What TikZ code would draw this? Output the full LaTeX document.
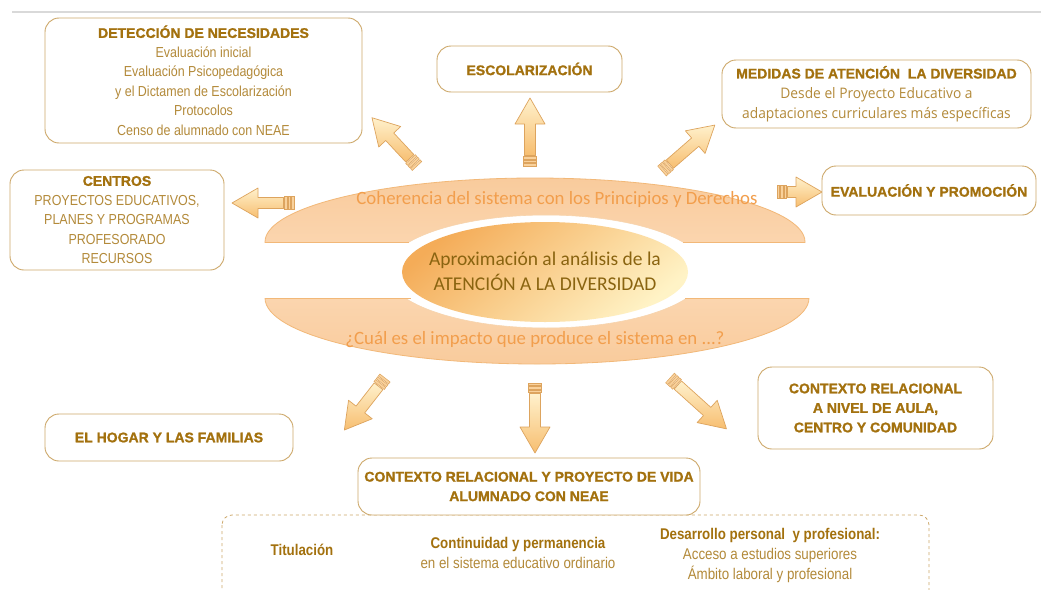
\documentclass[tikz,border=0pt]{standalone}
\usepackage{fontspec}
\setmainfont{Liberation Sans}
\newfontfamily\narrowfont[FakeStretch=0.86]{Liberation Sans}
\newfontfamily\heavyfont[FakeBold=1.2]{Liberation Sans Bold}
\newfontfamily\calib{Carlito}
\newfontfamily\opens[FakeStretch=0.95]{Open Sans}
\usetikzlibrary{shapes.geometric}

\definecolor{boxline}{HTML}{CDA86A}
\definecolor{titlec}{HTML}{A3710E}
\definecolor{bodyc}{HTML}{B38A3A}
\definecolor{bandtop}{HTML}{F9CB9C}
\definecolor{bandbot}{HTML}{FDE2C6}
\definecolor{bandline}{HTML}{F2B878}
\definecolor{bandtext}{HTML}{F29E4C}
\definecolor{arrline}{HTML}{DDA45E}
\definecolor{arrlight}{HTML}{FFF1CC}
\definecolor{arrdark}{HTML}{F7BE70}
\definecolor{centdark}{HTML}{F4AC58}
\definecolor{centlight}{HTML}{FFF3C6}
\definecolor{centtext}{HTML}{8A6410}

\newcommand{\ttl}[1]{{\heavyfont\fontsize{14}{19.5}\selectfont\color{titlec}#1}}

\tikzset{
  box/.style={draw=boxline, line width=0.9pt, rounded corners=14pt, fill=white,
    align=center, inner sep=0pt, text=bodyc,
    font=\narrowfont\fontsize{14.5}{19.5}\selectfont},
  arrbody/.style={draw=arrline, line width=0.7pt, top color=arrlight, bottom color=arrdark, line join=round},
  arrstripe/.style={draw=arrline, line width=0.5pt, fill=arrdark!70},
  bandtxt/.style={text=bandtext, font=\calib\fontsize{18.8}{20}\selectfont},
  lbl/.style={align=center, text=bodyc, inner sep=0pt, font=\narrowfont\fontsize{15.5}{20}\selectfont}
}

\newcommand{\barrow}[4]{%
  \begin{scope}[shift={(#1,#2)}, rotate=#3]
    \path[arrbody] (10.5,-5.5) -- ({#4-26},-5.5) -- ({#4-26},-15) -- (#4,0)
      -- ({#4-26},15) -- ({#4-26},5.5) -- (10.5,5.5) -- cycle;
    \path[arrstripe] (0,-6.5) rectangle (2.5,6.5);
    \path[arrstripe] (3.5,-6.5) rectangle (6,6.5);
    \path[arrstripe] (7,-6.5) rectangle (9.5,6.5);
  \end{scope}}

\begin{document}
\begin{tikzpicture}[x=1pt,y=-1pt]
\useasboundingbox (0,0) rectangle (1041,589);
\fill[white] (0,0) rectangle (1041,589);
\draw[black!15, line width=1.5pt] (12,12) -- (1041,12);

% upper band
\begin{scope}
  \clip (0,0) rectangle (1041,242);
  \shade[top color=bandtop, bottom color=bandbot, even odd rule]
    (535,242) ellipse [x radius=270, y radius=64]
    (546,271) ellipse [x radius=160, y radius=56];
  \draw[bandline, line width=0.8pt] (535,242) ellipse [x radius=270, y radius=64];
  \draw[bandline!60, line width=0.6pt] (546,271) ellipse [x radius=160, y radius=56];
\end{scope}
\draw[bandline, line width=0.8pt] (265,242) -- (409,242) (683,242) -- (805,242);

% lower band
\begin{scope}
  \clip (0,298) rectangle (1041,589);
  \shade[top color=bandbot, bottom color=bandtop, even odd rule]
    (537,298) ellipse [x radius=272, y radius=66]
    (546,271) ellipse [x radius=160, y radius=57];
  \draw[bandline, line width=0.8pt] (537,298) ellipse [x radius=272, y radius=66];
  \draw[bandline!60, line width=0.6pt] (546,271) ellipse [x radius=160, y radius=57];
\end{scope}
\draw[bandline, line width=0.8pt] (265,298) -- (411,298) (685,298) -- (809,298);

\node[bandtxt] (coh) at (557,199) {Coherencia del sistema con los Principios y Derechos};
\node[bandtxt] (imp) at (535,340) {¿Cuál es el impacto que produce el sistema en ...?};

% centre
\shade[top color=centdark, bottom color=centlight, shading angle=40]
  (545,272) ellipse [x radius=143, y radius=50];
\node[align=center, text=centtext, inner sep=0pt,
  font=\calib\fontsize{19.5}{25}\selectfont] (core) at (545,271)
  {Aproximación al análisis de la\\ATENCIÓN A LA DIVERSIDAD};

% arrows
\barrow{417}{166}{133}{66}
\barrow{530}{166}{90}{68}
\barrow{662}{171}{41}{70}
\barrow{294}{203}{180}{62}
\barrow{777}{192}{0}{45}
\barrow{385}{378}{232}{66}
\barrow{535}{383}{270}{70}
\barrow{670}{378}{-42}{76}

% dashed frame
\draw[boxline, line width=0.8pt, dash pattern=on 3pt off 3pt, rounded corners=10pt]
  (222,515) rectangle (929,605);

% boxes
\node[box, minimum width=317, minimum height=125] (det) at (203.5,80.5)
  {\ttl{DETECCIÓN DE NECESIDADES}\\Evaluación inicial\\Evaluación Psicopedagógica\\y el Dictamen de Escolarización\\Protocolos\\Censo de alumnado con NEAE};
\node[box, minimum width=185, minimum height=46] (esc) at (529.5,69)
  {\ttl{ESCOLARIZACIÓN}};
\node[box, minimum width=309, minimum height=68, font=\opens\fontsize{14.5}{20}\selectfont] (med) at (876.5,94)
  {\ttl{MEDIDAS DE ATENCIÓN\ \ LA DIVERSIDAD}\\Desde el Proyecto Educativo a\\adaptaciones curriculares más específicas};
\node[box, minimum width=214, minimum height=49] (eva) at (929,190.5)
  {\ttl{EVALUACIÓN Y PROMOCIÓN}};
\node[box, minimum width=214, minimum height=100] (cen) at (117,220)
  {\ttl{CENTROS}\\PROYECTOS EDUCATIVOS,\\PLANES Y PROGRAMAS\\PROFESORADO\\RECURSOS};
\node[box, minimum width=248, minimum height=47] (hog) at (169,437.5)
  {\ttl{EL HOGAR Y LAS FAMILIAS}};
\node[box, minimum width=235, minimum height=82] (aula) at (875.5,408)
  {\ttl{CONTEXTO RELACIONAL}\\\ttl{A NIVEL DE AULA,}\\\ttl{CENTRO Y COMUNIDAD}};
\node[box, minimum width=342, minimum height=57] (vida) at (529,486.5)
  {\ttl{CONTEXTO RELACIONAL Y PROYECTO DE VIDA}\\\ttl{ALUMNADO CON NEAE}};

% bottom texts
\node[lbl] (tit) at (302,550) {\textcolor{titlec}{\bfseries Titulación}};
\node[lbl] (cont) at (518,553) {\textcolor{titlec}{\bfseries Continuidad y permanencia}\\en el sistema educativo ordinario};
\node[lbl] (des) at (770,555) {\textcolor{titlec}{\bfseries Desarrollo personal\ \ y profesional:}\\Acceso a estudios superiores\\Ámbito laboral y profesional};
\end{tikzpicture}
\end{document}
